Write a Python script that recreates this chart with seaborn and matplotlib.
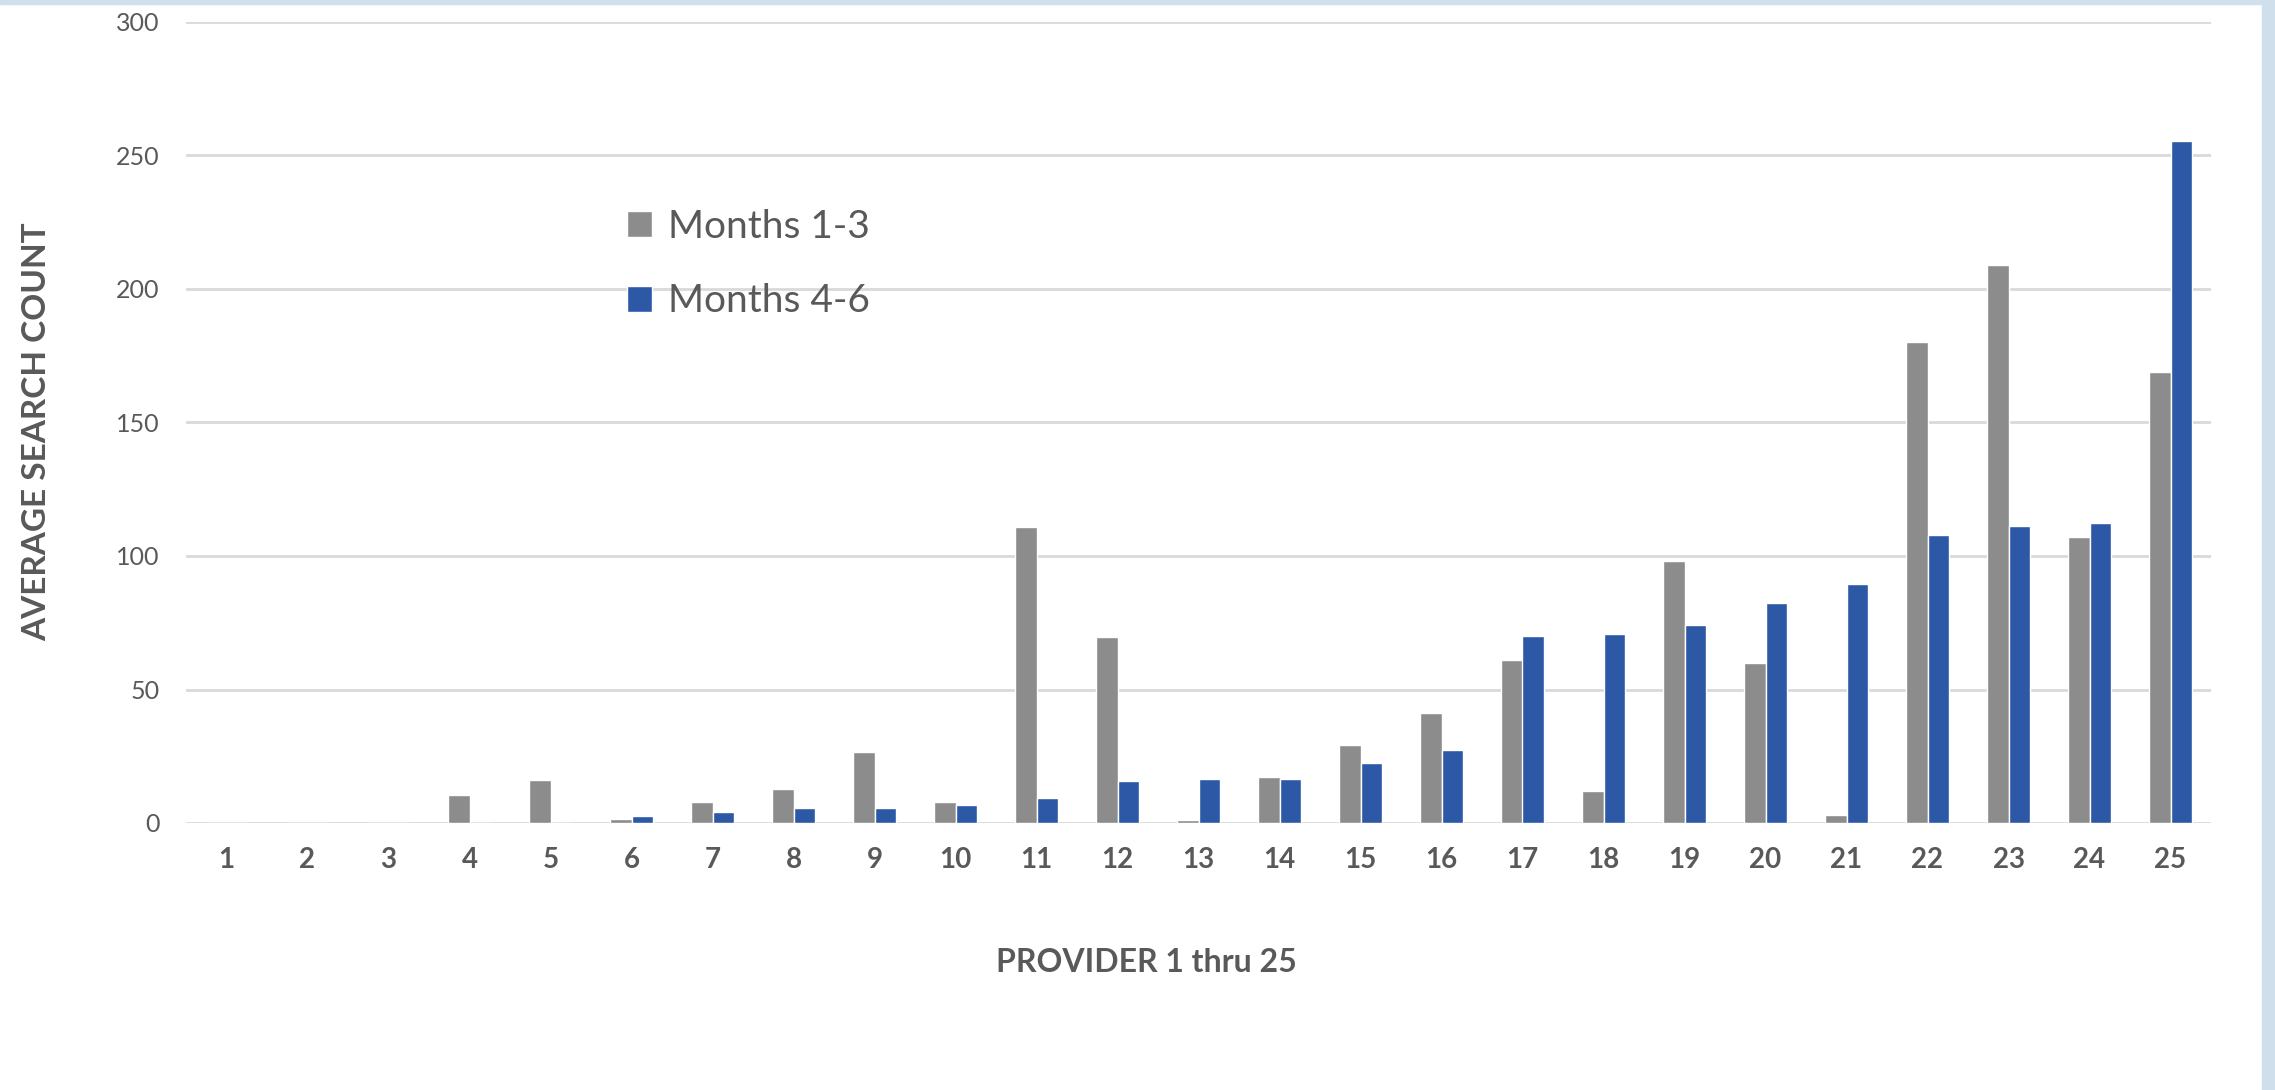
import pandas as pd
import matplotlib
matplotlib.use('Agg')
import matplotlib.pyplot as plt
import matplotlib.patches as mpatches
import seaborn as sns

# values
providers = [str(i) for i in range(1, 26)]
months_1_3 = [0, 0, 0, 10.3, 16.2, 1.6, 7.7, 12.6, 26.6, 8.0, 110.8, 69.8, 1.3,
              17.1, 29.4, 41.1, 60.9, 12.1, 98.0, 60.0, 3.0, 180.2, 209.0, 107.0, 168.9]
months_4_6 = [0, 0, 0, 0, 0, 2.5, 4.0, 5.8, 5.8, 6.7, 9.4, 15.7, 16.3,
              16.6, 22.5, 27.5, 70.0, 70.9, 74.0, 82.3, 89.4, 108.0, 111.1, 112.5, 255.4]
series_names = ['Months 1-3', 'Months 4-6']
y_ticks = [0, 50, 100, 150, 200, 250, 300]

gray = '#8c8c8c'
blue = '#2c58a5'
text_col = '#595959'

df = pd.DataFrame({
    'provider': providers * 2,
    'period': [series_names[0]] * 25 + [series_names[1]] * 25,
    'count': months_1_3 + months_4_6,
})

sns.set_style('white')
plt.rcParams['font.family'] = ['Lato', 'DejaVu Sans']

fig = plt.figure(figsize=(22.75, 10.9), dpi=100)
ax = fig.add_axes([186 / 2275, 1 - 823 / 1090, (2211 - 186) / 2275, (823 - 22) / 1090])

sns.barplot(data=df, x='provider', y='count', hue='period', palette=[gray, blue],
            width=0.52, saturation=1, ax=ax, legend=True)

ax.set_ylim(0, 300)
ax.set_xlim(-0.5, 24.5)
ax.set_yticks(y_ticks)
ax.yaxis.grid(True, color='#d9d9d9', linewidth=2)
ax.set_axisbelow(True)
for s in ax.spines.values():
    s.set_visible(False)

ax.tick_params(axis='both', length=0)
ax.tick_params(axis='y', labelsize=18, labelcolor=text_col, pad=19)
ax.tick_params(axis='x', labelsize=20, labelcolor=text_col, pad=17)
for lbl in ax.get_xticklabels():
    lbl.set_fontweight('bold')

ax.set_xlabel('PROVIDER 1 thru 25', fontsize=23, fontweight='bold', color=text_col)
ax.xaxis.set_label_coords((1146 - 186) / 2025, -(962 - 823) / 801)
ax.xaxis.label.set_va('center')
ax.set_ylabel('AVERAGE SEARCH COUNT', fontsize=24, fontweight='bold', color=text_col)
ax.yaxis.set_label_coords(-(186 - 37) / 2025, (823 - 432) / 801)
ax.yaxis.label.set_va('center')

handles, labels = ax.get_legend_handles_labels()
ax.legend(handles, labels, loc='center left', bbox_to_anchor=(627 / 2275, 1 - 264 / 1090),
          bbox_transform=fig.transFigure, frameon=False, fontsize=28,
          handlelength=0.65, handleheight=0.65, handletextpad=0.4,
          labelspacing=1.0, borderpad=0, borderaxespad=0, labelcolor=text_col)

# light blue frame strips from the screenshot
fig.patches.append(mpatches.Rectangle((0, 1 - 4 / 1090), 1, 4 / 1090,
                                      transform=fig.transFigure, color='#cfe0ec', zorder=0))
fig.patches.append(mpatches.Rectangle((2262 / 2275, 0), 13 / 2275, 1,
                                      transform=fig.transFigure, color='#cfe0ec', zorder=0))

fig.savefig('out.png', dpi=100)
